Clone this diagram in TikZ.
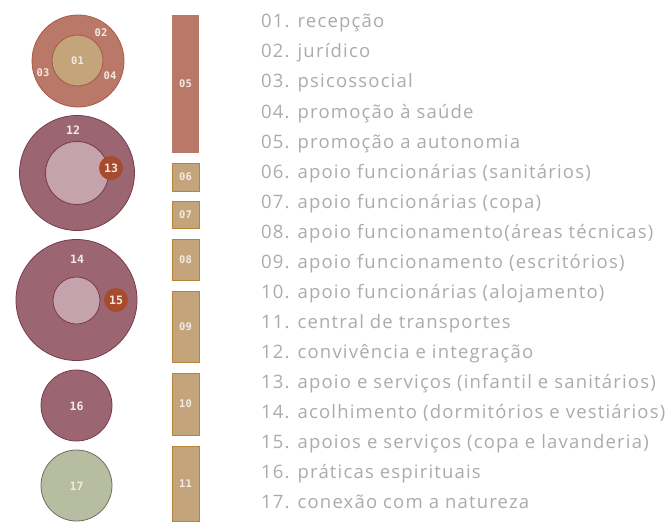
\documentclass[tikz,border=0pt]{standalone}
\usepackage{fontspec}
\setmainfont{Open Sans}[LetterSpace=6.4]
\newfontfamily\labfont{DejaVu Sans Mono}
\definecolor{terra}{HTML}{BA7868}
\definecolor{terraB}{HTML}{A85A45}
\definecolor{tan}{HTML}{C4A47A}
\definecolor{tanB}{HTML}{B8843A}
\definecolor{mauve}{HTML}{9B6672}
\definecolor{mauveB}{HTML}{7A3A4C}
\definecolor{lightm}{HTML}{C4A3AC}
\definecolor{rust}{HTML}{A84A2C}
\definecolor{sage}{HTML}{B7BDA0}
\definecolor{sageB}{HTML}{6E6E62}
\definecolor{listgray}{HTML}{ABABAB}
\definecolor{labw}{HTML}{F2EAE4}
\tikzset{
  disc/.style={circle, inner sep=0pt, line width=0.8pt},
  bar/.style={rectangle, inner sep=0pt, minimum width=27pt, fill=tan, draw=tanB, line width=0.8pt},
  lab/.style={text=labw, font=\labfont\bfseries\fontsize{10.5}{12}\selectfont, inner sep=0pt},
  biglab/.style={lab, font=\labfont\bfseries\fontsize{11.5}{12}\selectfont},
  item/.style={anchor=base west, text=listgray, font=\fontsize{18.5}{20}\selectfont, inner sep=0pt},
}
\begin{document}
\begin{tikzpicture}[x=1pt,y=-1pt]
\useasboundingbox (0,0) rectangle (666,524);
% circle group 1
\node[disc, fill=terra, draw=terraB, minimum size=92pt] (c2) at (78,61) {};
\node[disc, fill=tan, draw=terraB, minimum size=51pt] (c1) at (77.5,60.5) {};
\node[lab] (l01) at (77.5,61) {01};
\node[lab] (l02) at (101,33) {02};
\node[lab] (l03) at (43,73) {03};
\node[lab] (l04) at (110,76) {04};
% circle group 12
\node[disc, fill=mauve, draw=mauveB, minimum size=115pt] (c12) at (77,173) {};
\node[disc, fill=lightm, draw=mauveB, minimum size=63pt] (c12i) at (77,173) {};
\node[disc, fill=rust, minimum size=24pt] (c13) at (111,168) {};
\node[biglab] (l12) at (73,130) {12};
\node[biglab] (l13) at (111,168) {13};
% circle group 14
\node[disc, fill=mauve, draw=mauveB, minimum size=121pt] (c14) at (76.5,300) {};
\node[disc, fill=lightm, draw=mauveB, minimum size=47pt] (c14i) at (76.5,300.5) {};
\node[disc, fill=rust, minimum size=24pt] (c15) at (116,300) {};
\node[biglab] (l14) at (77,259) {14};
\node[biglab] (l15) at (116,300) {15};
% 16, 17
\node[disc, fill=mauve, draw=mauveB, minimum size=71pt] (c16) at (76.5,405.5) {};
\node[biglab] (l16) at (76.5,406) {16};
\node[disc, fill=sage, draw=sageB, minimum size=71pt] (c17) at (76.5,485.5) {};
\node[biglab] (l17) at (76.5,486) {17};
% bars
\node[bar, fill=terra, draw=none, minimum height=138pt] (b05) at (185.5,84) {};
\node[lab] at (b05) {05};
\node[bar, minimum height=28pt] (b06) at (185.5,177) {};
\node[lab] at (b06) {06};
\node[bar, minimum height=27pt] (b07) at (185.5,214.5) {};
\node[lab] at (b07) {07};
\node[bar, minimum height=41pt] (b08) at (185.5,259.5) {};
\node[lab] at (b08) {08};
\node[bar, minimum height=71pt] (b09) at (185.5,326.5) {};
\node[lab] at (b09) {09};
\node[bar, minimum height=62pt] (b10) at (185.5,404) {};
\node[lab] at (b10) {10};
\node[bar, minimum height=75pt] (b11) at (185.5,483.5) {};
\node[lab] at (b11) {11};
% list
\node[item] (t01) at (261,28) {01. recepção};
\node[item] (t02) at (261,58) {02. jurídico};
\node[item] (t03) at (261,88) {03. psicossocial};
\node[item] (t04) at (261,118) {04. promoção à saúde};
\node[item] (t05) at (261,148) {05. promoção a autonomia};
\node[item] (t06) at (261,178) {06. apoio funcionárias (sanitários)};
\node[item] (t07) at (261,208) {07. apoio funcionárias (copa)};
\node[item] (t08) at (261,238) {08. apoio funcionamento(áreas técnicas)};
\node[item] (t09) at (261,268) {09. apoio funcionamento (escritórios)};
\node[item] (t10) at (261,298) {10. apoio funcionárias (alojamento)};
\node[item] (t11) at (261,328) {11. central de transportes};
\node[item] (t12) at (261,358) {12. convivência e integração};
\node[item] (t13) at (261,388) {13. apoio e serviços (infantil e sanitários)};
\node[item] (t14) at (261,418) {14. acolhimento (dormitórios e vestiários)};
\node[item] (t15) at (261,448) {15. apoios e serviços (copa e lavanderia)};
\node[item] (t16) at (261,478) {16. práticas espirituais};
\node[item] (t17) at (261,508) {17. conexão com a natureza};
\end{tikzpicture}
\end{document}
